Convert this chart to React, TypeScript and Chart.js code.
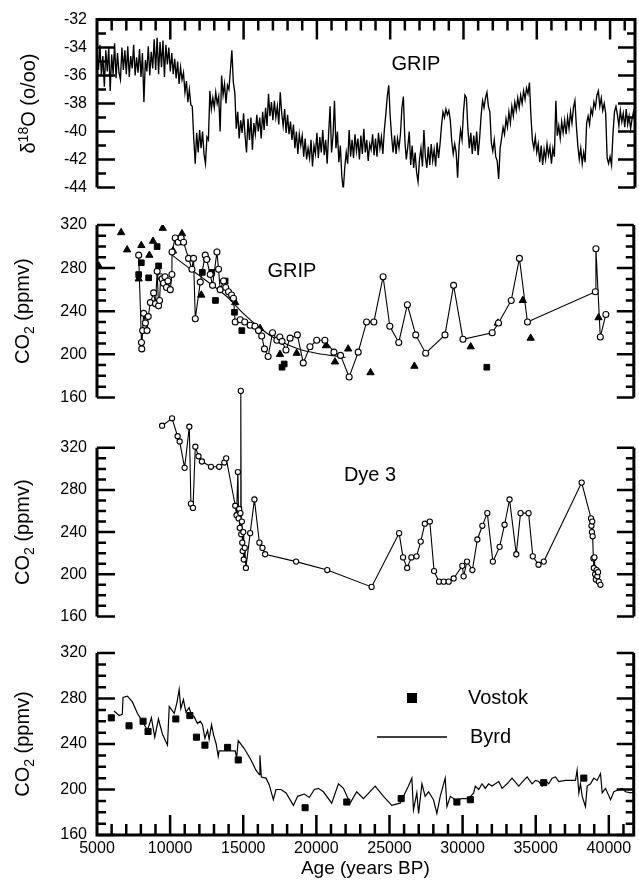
import React, { useEffect, useRef } from 'react';
import { Chart, registerables } from 'chart.js';
Chart.register(...registerables);

const FONT = "'Liberation Sans', Arial, Helvetica, sans-serif";
Chart.defaults.font.family = FONT;
Chart.defaults.color = '#000';

// ---------- shared axis values ----------
const AGE_MIN = 5000;
const AGE_MAX = 41700;
const AGE_LABELS = [5000, 10000, 15000, 20000, 25000, 30000, 35000, 40000];
const D18O_MIN = -44, D18O_MAX = -32, D18O_STEP = 2;
const CO2_MIN = 160, CO2_MAX = 320, CO2_STEP = 40;
const CO2_LABELS = [160, 200, 240, 280, 320];
const DYE3_HEADROOM_MAX = 380; // Dye 3 values above 320 are drawn above the frame

// ---------- Panel 1: GRIP d18O, one value every 100 years from 5000 BP ----------
const D18O_START_AGE = 5000;
const D18O_SAMPLE_YEARS = 100;
const D18O = [
  -34.3, -35.6, -33.8, -36.0, -34.6, -36.8, -34.2, -35.7, -34.0, -37.1, // 5000
  -34.5, -35.9, -33.7, -36.2, -34.4, -35.8, -36.3, -34.0, -35.6, -34.2, // 6000
  -35.9, -33.9, -36.1, -34.6, -35.5, -33.8, -36.0, -34.7, -35.8, -34.1, // 7000
  -36.1, -34.4, -37.9, -34.9, -35.7, -33.9, -36.0, -34.3, -35.5, -33.4, // 8000
  -35.6, -33.3, -35.9, -33.6, -35.4, -33.5, -36.1, -33.8, -35.2, -34.0, // 9000
  -35.7, -34.4, -35.9, -34.8, -36.2, -35.0, -36.6, -35.4, -36.3, -35.8, // 10000
  -37.2, -36.4, -37.9, -37.0, -38.1, -38.2, -40.5, -42.3, -40.1, -41.5, // 11000
  -39.9, -41.2, -40.0, -41.6, -42.3, -40.4, -40.6, -37.1, -38.4, -37.6, // 12000
  -38.3, -37.2, -38.0, -37.5, -40.0, -36.0, -37.4, -36.6, -38.0, -36.7, // 13000
  -37.0, -35.6, -34.2, -36.5, -37.2, -39.8, -38.6, -40.5, -39.2, -40.1, // 14000
  -38.7, -40.3, -41.5, -39.1, -40.6, -39.0, -41.3, -39.4, -40.2, -38.8, // 15000
  -40.0, -39.0, -40.5, -38.6, -39.9, -38.3, -39.6, -37.3, -38.9, -37.9, // 16000
  -39.2, -37.8, -39.0, -38.2, -39.5, -37.2, -38.7, -39.6, -38.4, -40.1, // 17000
  -38.8, -40.2, -39.3, -40.6, -39.5, -41.2, -40.0, -41.6, -40.2, -41.0, // 18000
  -40.3, -41.8, -40.5, -42.0, -41.2, -41.9, -40.6, -42.5, -41.0, -41.6, // 19000
  -40.1, -41.9, -40.4, -41.5, -39.9, -41.7, -40.6, -42.3, -40.2, -38.2, // 20000
  -41.5, -40.3, -37.8, -41.2, -40.0, -42.2, -41.0, -43.2, -44.2, -42.6, // 21000
  -41.5, -42.3, -39.9, -41.8, -40.6, -41.9, -40.2, -41.4, -40.5, -42.0, // 22000
  -40.3, -41.6, -39.8, -41.5, -40.6, -42.1, -40.9, -41.3, -40.2, -41.7, // 23000
  -40.5, -41.8, -40.1, -41.2, -40.4, -41.6, -39.9, -38.8, -37.5, -36.7, // 24000
  -38.9, -40.4, -41.5, -40.3, -41.6, -40.5, -41.2, -40.2, -38.3, -37.5, // 25000
  -40.6, -42.0, -41.1, -40.0, -42.4, -41.0, -42.6, -41.5, -42.9, -43.6, // 26000
  -42.0, -41.2, -42.5, -39.9, -41.8, -42.6, -41.1, -42.4, -40.9, -42.1, // 27000
  -41.3, -42.5, -40.8, -41.9, -40.9, -39.6, -38.6, -39.0, -38.4, -38.8, // 28000
  -38.5, -39.2, -40.7, -41.6, -40.9, -41.5, -43.3, -41.0, -39.9, -40.6, // 29000
  -38.6, -37.4, -37.6, -39.8, -41.2, -40.1, -41.6, -40.3, -41.4, -40.0, // 30000
  -41.7, -40.5, -38.9, -37.8, -38.3, -37.6, -37.2, -38.2, -38.6, -40.8, // 31000
  -41.4, -40.6, -41.8, -42.1, -43.4, -41.2, -40.5, -39.7, -40.2, -39.1, // 32000
  -39.7, -38.6, -39.4, -38.2, -38.9, -37.9, -38.5, -37.6, -38.3, -37.4, // 33000
  -38.0, -37.1, -37.7, -36.9, -37.3, -36.5, -38.9, -40.6, -41.2, -40.4, // 34000
  -41.5, -40.9, -42.2, -41.0, -42.4, -41.3, -42.0, -40.9, -41.7, -41.1, // 35000
  -42.3, -41.2, -41.8, -37.8, -40.3, -39.6, -40.5, -39.3, -40.1, -39.2, // 36000
  -40.2, -39.0, -39.8, -38.6, -39.4, -38.3, -37.8, -39.6, -41.0, -42.0, // 37000
  -41.2, -42.3, -41.5, -42.2, -39.4, -38.9, -39.5, -38.4, -38.8, -37.9, // 38000
  -38.3, -37.4, -37.1, -38.2, -37.6, -38.5, -38.0, -38.7, -41.9, -42.3, // 39000
  -41.8, -42.4, -40.1, -38.6, -38.2, -38.8, -39.6, -38.5, -39.3, -38.7, // 40000
  -39.7, -38.4, -39.5, -38.9, -39.8, -39.1, -38.6, -39.4,               // 41000
];

// ---------- Panel 2: GRIP CO2 [age, ppmv] ----------
const GRIP_CIRCLES: [number, number][] = [
  [7850, 292], [8040, 211], [8060, 205], [8120, 222], [8190, 238], [8310, 229], [8420, 222],
  [8500, 235], [8650, 248], [8870, 257], [9000, 247], [9110, 277], [9210, 245], [9280, 250],
  [9350, 272], [9450, 270], [9550, 266], [9650, 272], [9750, 262], [9850, 268], [10010, 260],
  [10120, 274], [10130, 295], [10350, 308], [10550, 304], [10750, 308], [10920, 304], [11260, 289],
  [11490, 279], [11600, 289], [11720, 233], [12060, 267], [12400, 292], [12500, 288], [12740, 274],
  [12900, 264], [13200, 295], [13310, 279], [13420, 260], [13650, 268], [13800, 262], [13990, 258],
  [14200, 255], [14330, 252], [14450, 230], [14790, 232], [15100, 230], [15470, 227], [15800, 226],
  [16040, 222], [16260, 217], [16450, 205], [16700, 198], [17000, 220], [17300, 213], [17500, 216],
  [17650, 212], [17920, 204], [18200, 215], [18700, 218], [19100, 192], [19560, 207], [20020, 213],
  [20580, 213], [21200, 202], [21650, 199], [22240, 179], [22860, 202], [23430, 230], [23930, 230],
  [24560, 272], [25020, 226], [25630, 211], [26220, 246], [26790, 218], [27470, 201], [28790, 218],
  [29380, 264], [30020, 214], [32020, 220], [32450, 229], [33320, 250], [33880, 289], [34430, 230],
  [39070, 258], [39110, 298], [39410, 216], [39790, 237],
];
const GRIP_TRIANGLES: [number, number][] = [
  [5120, 282], [6650, 313], [7060, 297], [7850, 270], [8030, 301], [8580, 292], [8830, 305],
  [9490, 317], [10200, 296], [10810, 312], [12130, 255], [12500, 290], [14450, 248], [16150, 224],
  [17510, 200], [18650, 201], [20650, 208], [21270, 193], [22170, 205], [23700, 183], [26700, 189],
  [30550, 207], [32400, 229], [34110, 250], [34650, 215], [39290, 234],
];
const GRIP_SQUARES: [number, number][] = [
  [7850, 274], [8030, 285], [8530, 271], [9110, 300], [9210, 282], [12200, 276], [12850, 276],
  [13100, 250], [13760, 268], [14400, 239], [14900, 222], [17650, 188], [17800, 191], [31650, 188],
];
const GRIP_FIT: [number, number][] = [
  [10130, 292], [11000, 283], [12000, 273], [13000, 263], [14000, 252], [15000, 238], [16000, 226],
  [17000, 216], [18000, 209], [19000, 204], [20000, 201], [21000, 199], [22000, 197],
];

// ---------- Panel 3: Dye 3 CO2 [age, ppmv] ----------
const DYE3: [number, number][] = [
  [9450, 341], [10130, 348], [10510, 331], [10650, 326], [10990, 301], [11310, 340], [11420, 267],
  [11560, 263], [11720, 321], [11940, 312], [12170, 307], [12790, 302], [13350, 302], [13700, 306],
  [13830, 310], [14450, 265], [14540, 256], [14630, 297], [14680, 253], [14720, 262], [14760, 244],
  [14800, 258], [14830, 374], [14860, 238], [14900, 250], [14930, 230], [14960, 222], [15000, 240],
  [15030, 214], [15100, 225], [15180, 206], [15470, 239], [15760, 271], [16100, 230], [16310, 225],
  [16490, 219], [18610, 212], [20740, 204], [23770, 188], [25650, 239], [25920, 216], [26200, 206],
  [26490, 216], [26840, 217], [27130, 231], [27410, 248], [27750, 250], [28040, 203], [28380, 193],
  [28700, 193], [29040, 193], [29380, 196], [29970, 208], [30060, 198], [30290, 212], [30660, 204],
  [31000, 233], [31340, 246], [31680, 258], [32060, 212], [32520, 226], [32860, 247], [33200, 271],
  [33660, 219], [33950, 258], [34500, 258], [34790, 217], [35180, 209], [35540, 212], [38130, 287],
  [38770, 253], [38800, 246], [38830, 240], [38850, 250], [38880, 236], [38930, 215], [38960, 206],
  [39000, 216], [39050, 200], [39100, 195], [39150, 204], [39200, 198], [39250, 202], [39300, 193],
  [39410, 190],
];

// ---------- Panel 4: Vostok and Byrd CO2 [age, ppmv] ----------
const VOSTOK: [number, number][] = [
  [5980, 263], [7190, 256], [8150, 260], [8490, 251], [10390, 262], [11350, 265], [11800, 246],
  [12380, 239], [13930, 237], [14660, 226], [19230, 184], [22080, 189], [25800, 192], [29610, 189],
  [30530, 191], [35550, 206], [38290, 210],
];
const BYRD: [number, number][] = [
  [6160, 269], [6510, 265], [6730, 266], [6780, 281], [7080, 282], [7420, 277], [7760, 267],
  [8100, 260], [8450, 252], [8720, 263], [8950, 246], [9200, 262], [9470, 249], [9640, 244],
  [9820, 239], [9940, 273], [10280, 267], [10460, 276], [10620, 288], [10730, 271], [10910, 279],
  [11080, 268], [11300, 272], [11450, 266], [11640, 264], [11870, 258], [12060, 260], [12210, 257],
  [12380, 245], [12560, 252], [12670, 244], [12830, 257], [12970, 248], [13150, 240], [13290, 229],
  [13350, 234], [14450, 234], [14550, 228], [14660, 243], [15070, 236], [15300, 231], [15530, 226],
  [15870, 217], [16100, 213], [16140, 230], [16240, 211], [16560, 210], [16780, 204], [17060, 191],
  [17240, 200], [17580, 200], [17930, 197], [18430, 186], [18720, 194], [19180, 196], [19520, 193],
  [19860, 200], [20140, 201], [20480, 198], [21050, 188], [21510, 205], [21850, 201], [22310, 188],
  [22760, 198], [23220, 192], [24020, 203], [24590, 194], [25160, 186], [25730, 188], [25960, 194],
  [26300, 203], [26530, 210], [26640, 182], [26870, 197], [26990, 179], [27220, 205], [27440, 194],
  [27670, 198], [28010, 191], [28240, 179], [28470, 194], [28810, 210], [28930, 185], [29160, 194],
  [29500, 191], [29960, 192], [30410, 192], [30760, 197], [30870, 203], [31100, 200], [31330, 205],
  [31550, 201], [31780, 205], [32010, 203], [32470, 207], [32700, 201], [33040, 205], [33380, 210],
  [33840, 203], [34180, 208], [34410, 211], [34750, 205], [34980, 208], [35210, 207], [35440, 203],
  [35660, 208], [35890, 205], [36120, 210], [36350, 211], [36580, 207], [37030, 208], [37720, 208],
  [37830, 217], [37950, 197], [38060, 205], [38180, 194], [38400, 185], [38520, 203], [38750, 205],
  [38970, 210], [39200, 208], [39430, 214], [39550, 197], [39770, 201], [40120, 191], [40340, 198],
  [40690, 200], [40920, 201], [41140, 198], [41490, 197], [41830, 198],
];

// ---------- layout ----------
const W = 639;
const PLOT_LEFT = 97;
const PLOT_RIGHT = 635;

const toXY = (arr: [number, number][]) => arr.map(([x, y]) => ({ x, y }));

type Seg = { t: string; size: number; dy: number };
type TextItem = { text: string; x: number; y: number; size: number; align?: CanvasTextAlign };

function drawRotated(ctx: CanvasRenderingContext2D, segs: Seg[], baseX: number, centerY: number) {
  ctx.save();
  ctx.translate(baseX, centerY);
  ctx.rotate(-Math.PI / 2);
  ctx.fillStyle = '#000';
  ctx.textBaseline = 'alphabetic';
  ctx.textAlign = 'left';
  let total = 0;
  for (const s of segs) {
    ctx.font = `${s.size}px ${FONT}`;
    total += ctx.measureText(s.t).width;
  }
  let x = -total / 2;
  for (const s of segs) {
    ctx.font = `${s.size}px ${FONT}`;
    ctx.fillText(s.t, x, s.dy);
    x += ctx.measureText(s.t).width;
  }
  ctx.restore();
}

type FrameOpts = {
  canvasTop: number;
  top?: boolean;
  bottom?: boolean;
  frameMax?: number;
  yMinor: number;
  yMajor: number;
  title: Seg[];
  titleBaseX: number;
  texts: TextItem[];
  legend?: boolean;
};

function framePlugin(o: FrameOpts) {
  return {
    id: 'frame',
    afterDraw(chart: any) {
      const { ctx, chartArea: a, scales } = chart;
      const xs = scales.x;
      const ys = scales.y;
      const fMax = o.frameMax ?? ys.max;
      const fTop = ys.getPixelForValue(fMax);
      const fBot = ys.getPixelForValue(ys.min);
      ctx.save();
      ctx.strokeStyle = '#000';
      ctx.lineCap = 'butt';
      ctx.lineWidth = 3;
      ctx.beginPath();
      ctx.moveTo(a.left, fTop - (o.top ? 1.5 : 0));
      ctx.lineTo(a.left, fBot + (o.bottom ? 1.5 : 0));
      ctx.moveTo(a.right, fTop - (o.top ? 1.5 : 0));
      ctx.lineTo(a.right, fBot + (o.bottom ? 1.5 : 0));
      if (o.top) { ctx.moveTo(a.left, fTop); ctx.lineTo(a.right, fTop); }
      if (o.bottom) { ctx.moveTo(a.left, fBot); ctx.lineTo(a.right, fBot); }
      ctx.stroke();

      ctx.lineWidth = 2.5;
      ctx.beginPath();
      const n = Math.round((fMax - ys.min) / o.yMinor);
      for (let i = 0; i <= n; i++) {
        const v = ys.min + i * o.yMinor;
        const py = ys.getPixelForValue(v);
        const r = (v - ys.min) / o.yMajor;
        const major = Math.abs(r - Math.round(r)) < 1e-6;
        ctx.moveTo(a.left, py); ctx.lineTo(a.left + (major ? 18 : 9), py);
        ctx.moveTo(a.right, py); ctx.lineTo(a.right - (major ? 17 : 8), py);
      }
      if (o.top || o.bottom) {
        for (let age = AGE_MIN + 1000; age <= xs.max; age += 1000) {
          const px = xs.getPixelForValue(age);
          const L = age % 5000 === 0 ? 20 : 11;
          if (o.top) { ctx.moveTo(px, fTop); ctx.lineTo(px, fTop + L); }
          if (o.bottom) { ctx.moveTo(px, fBot); ctx.lineTo(px, fBot - L); }
        }
      }
      ctx.stroke();

      drawRotated(ctx, o.title, o.titleBaseX, (fTop + fBot) / 2);

      ctx.fillStyle = '#000';
      ctx.textBaseline = 'middle';
      for (const t of o.texts) {
        ctx.font = `${t.size}px ${FONT}`;
        ctx.textAlign = t.align || 'center';
        ctx.fillText(t.text, t.x, t.y - o.canvasTop);
      }
      if (o.legend) {
        ctx.fillRect(407, 693 - o.canvasTop, 10, 10);
        ctx.lineWidth = 1.5;
        ctx.beginPath();
        ctx.moveTo(377, 737 - o.canvasTop);
        ctx.lineTo(447, 737 - o.canvasTop);
        ctx.stroke();
      }
      ctx.restore();
    },
  };
}

function yScale(min: number, max: number, step: number, labels?: number[]) {
  const s: any = {
    type: 'linear',
    position: 'left',
    min,
    max,
    ticks: {
      stepSize: step,
      padding: 10,
      color: '#000',
      font: { family: FONT, size: 16 },
      callback: (v: any) => String(v),
    },
    grid: { display: false, drawTicks: false },
    border: { display: false },
    afterFit: (sc: any) => { sc.width = PLOT_LEFT; },
  };
  if (labels) s.afterBuildTicks = (sc: any) => { sc.ticks = labels.map((v) => ({ value: v })); };
  return s;
}

const hiddenX = { type: 'linear', min: AGE_MIN, max: AGE_MAX, display: false };

const baseOptions = (padding: any, scales: any) => ({
  responsive: false,
  animation: false,
  events: [],
  devicePixelRatio: 1,
  layout: { padding },
  plugins: { legend: { display: false }, tooltip: { enabled: false } },
  scales,
});

const CO2_TITLE: Seg[] = [
  { t: 'CO', size: 20, dy: 0 },
  { t: '2', size: 14, dy: 5 },
  { t: ' (ppmv)', size: 20, dy: 0 },
];

type PanelDef = { top: number; height: number; make: () => any };

// Dye 3 frame: 320 at y=444, 160 at y=626 -> 1.1375 px/ppmv; headroom up to 380
const DYE3_TOP_PAD = 10 + (444 - 365 - 10) - (DYE3_HEADROOM_MAX - CO2_MAX) * (182 / (CO2_MAX - CO2_MIN));

const PANELS: PanelDef[] = [
  {
    top: 0,
    height: 207,
    make: () => ({
      type: 'line',
      data: {
        datasets: [{
          data: D18O.map((v, i) => ({ x: D18O_START_AGE + i * D18O_SAMPLE_YEARS, y: v })),
          borderColor: '#000', borderWidth: 1.35, pointRadius: 0, tension: 0,
        }],
      },
      options: baseOptions({ left: 0, right: W - PLOT_RIGHT, top: 15, bottom: 10 }, {
        x: hiddenX, y: yScale(D18O_MIN, D18O_MAX, D18O_STEP),
      }),
      plugins: [framePlugin({
        canvasTop: 0, top: true, yMinor: 1, yMajor: 2,
        title: [
          { t: 'δ', size: 20, dy: 0 },
          { t: '18', size: 14, dy: -7 },
          { t: 'O (o/oo)', size: 20, dy: 0 },
        ],
        titleBaseX: 35,
        texts: [{ text: 'GRIP', x: 416, y: 64, size: 20 }],
      })],
    }),
  },
  {
    top: 205,
    height: 212,
    make: () => ({
      type: 'line',
      data: {
        datasets: [
          {
            data: toXY(GRIP_CIRCLES), borderColor: '#000', borderWidth: 1.1, tension: 0,
            pointStyle: 'circle', pointRadius: 3, pointBackgroundColor: '#fff',
            pointBorderColor: '#000', pointBorderWidth: 1.1,
          },
          {
            data: toXY(GRIP_TRIANGLES), showLine: false, pointStyle: 'triangle', pointRadius: 4.2,
            pointBackgroundColor: '#000', pointBorderColor: '#000', pointBorderWidth: 1,
          },
          {
            data: toXY(GRIP_SQUARES), showLine: false, pointStyle: 'rect', pointRadius: 4,
            pointBackgroundColor: '#000', pointBorderColor: '#000', pointBorderWidth: 1,
          },
          {
            data: toXY(GRIP_FIT), borderColor: '#000', borderWidth: 1.1, pointRadius: 0,
            cubicInterpolationMode: 'monotone',
          },
        ],
      },
      options: baseOptions({ left: 0, right: W - PLOT_RIGHT, top: 20, bottom: 10 }, {
        x: hiddenX, y: yScale(CO2_MIN, CO2_MAX, CO2_STEP),
      }),
      plugins: [framePlugin({
        canvasTop: 205, yMinor: 10, yMajor: 40, title: CO2_TITLE, titleBaseX: 29,
        texts: [{ text: 'GRIP', x: 292, y: 271, size: 20 }],
      })],
    }),
  },
  {
    top: 365,
    height: 271,
    make: () => ({
      type: 'line',
      data: {
        datasets: [{
          data: toXY(DYE3), borderColor: '#000', borderWidth: 1.1, tension: 0,
          pointStyle: 'circle', pointRadius: 2.6, pointBackgroundColor: '#fff',
          pointBorderColor: '#000', pointBorderWidth: 1.1,
        }],
      },
      options: baseOptions({ left: 0, right: W - PLOT_RIGHT, top: DYE3_TOP_PAD, bottom: 10 }, {
        x: hiddenX, y: yScale(CO2_MIN, DYE3_HEADROOM_MAX, CO2_STEP, CO2_LABELS),
      }),
      plugins: [framePlugin({
        canvasTop: 365, frameMax: CO2_MAX, yMinor: 10, yMajor: 40, title: CO2_TITLE, titleBaseX: 29,
        texts: [{ text: 'Dye 3', x: 370, y: 475, size: 20 }],
      })],
    }),
  },
  {
    top: 630,
    height: 256,
    make: () => ({
      type: 'line',
      data: {
        datasets: [
          {
            data: toXY(VOSTOK), showLine: false, pointStyle: 'rect', pointRadius: 4.3,
            pointBackgroundColor: '#000', pointBorderColor: '#000', pointBorderWidth: 1,
          },
          {
            data: toXY(BYRD), borderColor: '#000', borderWidth: 1.2, pointRadius: 0, tension: 0,
          },
        ],
      },
      options: baseOptions({ left: 0, right: W - PLOT_RIGHT, top: 23, bottom: 0 }, {
        x: {
          type: 'linear', position: 'bottom', min: AGE_MIN, max: AGE_MAX,
          afterBuildTicks: (s: any) => { s.ticks = AGE_LABELS.map((v) => ({ value: v })); },
          ticks: {
            padding: 4, color: '#000', maxRotation: 0, autoSkip: false,
            font: { family: FONT, size: 16 }, callback: (v: any) => String(v),
          },
          grid: { display: false, drawTicks: false },
          border: { display: false },
          title: {
            display: true, text: 'Age (years BP)', color: '#000',
            font: { family: FONT, size: 19 }, padding: { top: 0, bottom: 6 },
          },
          afterFit: (s: any) => { s.height = 51; },
        },
        y: yScale(CO2_MIN, CO2_MAX, CO2_STEP),
      }),
      plugins: [framePlugin({
        canvasTop: 630, bottom: true, yMinor: 10, yMajor: 40, title: CO2_TITLE, titleBaseX: 29,
        texts: [
          { text: 'Vostok', x: 468, y: 698, size: 20, align: 'left' },
          { text: 'Byrd', x: 470, y: 737, size: 20, align: 'left' },
        ],
        legend: true,
      })],
    }),
  },
];

function Panel({ def }: { def: PanelDef }) {
  const ref = useRef<HTMLCanvasElement>(null);
  useEffect(() => {
    const chart = new Chart(ref.current as HTMLCanvasElement, def.make());
    return () => chart.destroy();
  }, [def]);
  return (
    <canvas
      ref={ref}
      width={W}
      height={def.height}
      style={{ position: 'absolute', left: 0, top: def.top, width: W, height: def.height }}
    />
  );
}

export default function App() {
  return (
    <div style={{ position: 'absolute', left: 0, top: 0, width: W, height: 886, background: '#fff', overflow: 'hidden' }}>
      {PANELS.map((p, i) => <Panel key={i} def={p} />)}
    </div>
  );
}
